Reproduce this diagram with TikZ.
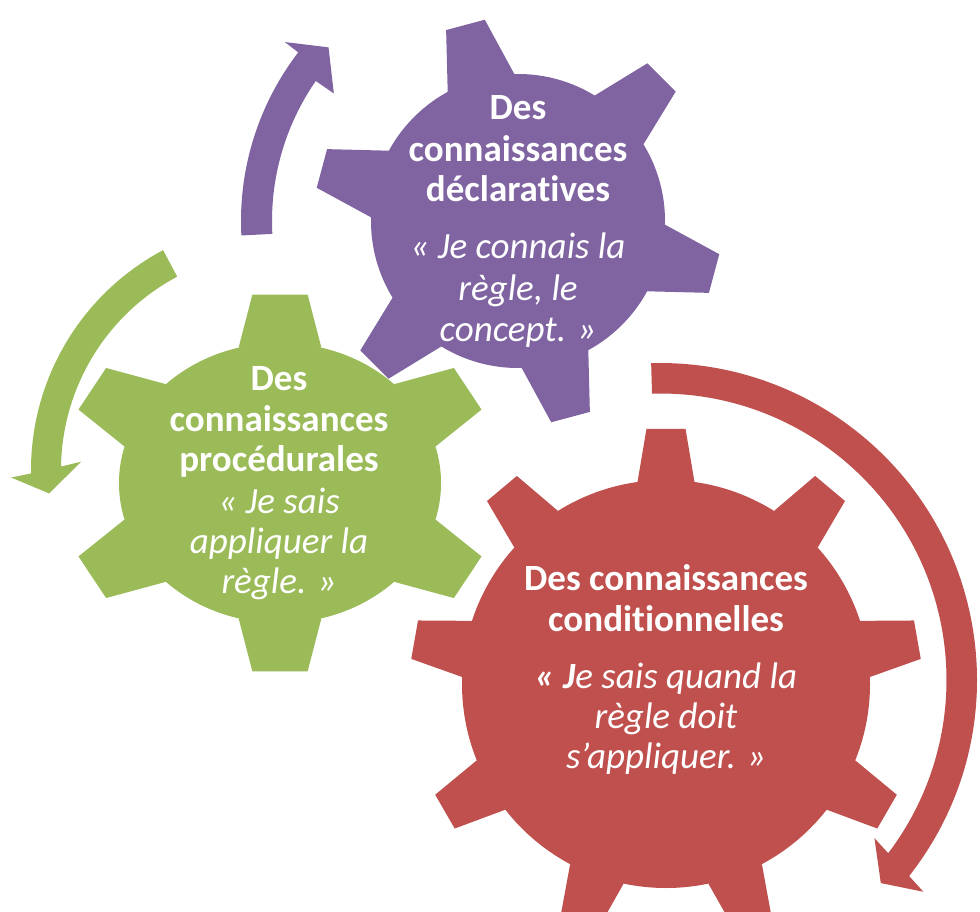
\documentclass[tikz,border=0pt]{standalone}
\usepackage{fontspec}
\setmainfont{Carlito}[Ligatures=NoCommon]
\definecolor{gpurple}{HTML}{8064A2}
\definecolor{ggreen}{HTML}{9BBB59}
\definecolor{gred}{HTML}{C0504D}
\tikzset{
  bl/.style={anchor=base, inner sep=0pt, text=white, font=\fontsize{37}{40}\selectfont\bfseries},
  il/.style={anchor=base, inner sep=0pt, text=white, font=\fontsize{37}{40}\selectfont\itshape},
}
% colour, centre, teeth, first angle, body r, tip r, base half-angle, tip half-angle, xscale
\newcommand{\mygear}[9]{%
  \begin{scope}[shift={(#2)}, xscale=#9]
    \fill[#1] (0,0) circle[radius=#5];
    \foreach \k in {1,...,#3}{
      \pgfmathsetmacro{\ga}{#4+360/#3*(\k-1)}
      \fill[#1] (\ga-#7:#5) -- (\ga-#8:#6) -- (\ga+#8:#6) -- (\ga+#7:#5) -- cycle;
    }
  \end{scope}}
\begin{document}
\begin{tikzpicture}[x=1pt,y=-1pt]
\useasboundingbox (0,0) rectangle (980,912);
\fill[white] (0,0) rectangle (980,912);
% arrows
\fill[gpurple, shift={(518,221)}] (177:246) arc[start angle=177, end angle=214.7, radius=246]
  -- (214.7:224) -- (222.5:257) -- (217.5:294) -- (217.5:277)
  arc[start angle=217.5, end angle=177, radius=277] -- cycle;
\fill[ggreen, shift={(280,470)}] (242:219) arc[start angle=242, end angle=180.9, radius=219]
  -- (182.4:199) -- (174.2:232) -- (178.4:269) -- (179.2:249)
  arc[start angle=179.2, end angle=242, radius=249] -- cycle;
\fill[gred, shift={(660,680)}] (-91.6:286.5) arc[start angle=-91.6, end angle=37.2, radius=286.5]
  -- (36.4:266.4) -- (42.6:300) -- (38.8:338) -- (38.2:317)
  arc[start angle=38.2, end angle=-91.6, radius=317] -- cycle;
% gears
\mygear{ggreen}{280,483}{6}{-90}{140}{190}{14.9}{7.26}{1.15}
\mygear{gpurple}{518,221}{6}{15}{147}{204}{13.57}{5.63}{1}
\mygear{gred}{666,684}{9}{-90}{204}{256}{8.03}{4.37}{1}
% purple text
\node[bl] (p1) at (518,120) {Des};
\node[bl] (p2) at (518,161.7) {connaissances};
\node[bl] (p3) at (518,201.7) {déclaratives};
\node[il] (p4) at (518,258.3) {« Je connais la};
\node[il] (p5) at (518,300) {règle, le};
\node[il] (p6) at (518,341.7) {concept. »};
% green text
\node[bl] (g1) at (279,390) {Des};
\node[bl] (g2) at (279,431.7) {connaissances};
\node[bl] (g3) at (279,471.7) {procédurales};
\node[il] (g4) at (279,513.3) {« Je sais};
\node[il] (g5) at (279,553.3) {appliquer la};
\node[il] (g6) at (279,593.3) {règle. »};
% red text
\node[bl] (r1) at (666,590.7) {Des connaissances};
\node[bl] (r2) at (666,631) {conditionnelles};
\node[il] (r3) at (666,688.3) {{\bfseries« J}e sais quand la};
\node[il] (r4) at (666,728.3) {règle doit};
\node[il] (r5) at (666,768.3) {s’appliquer. »};
\end{tikzpicture}
\end{document}
